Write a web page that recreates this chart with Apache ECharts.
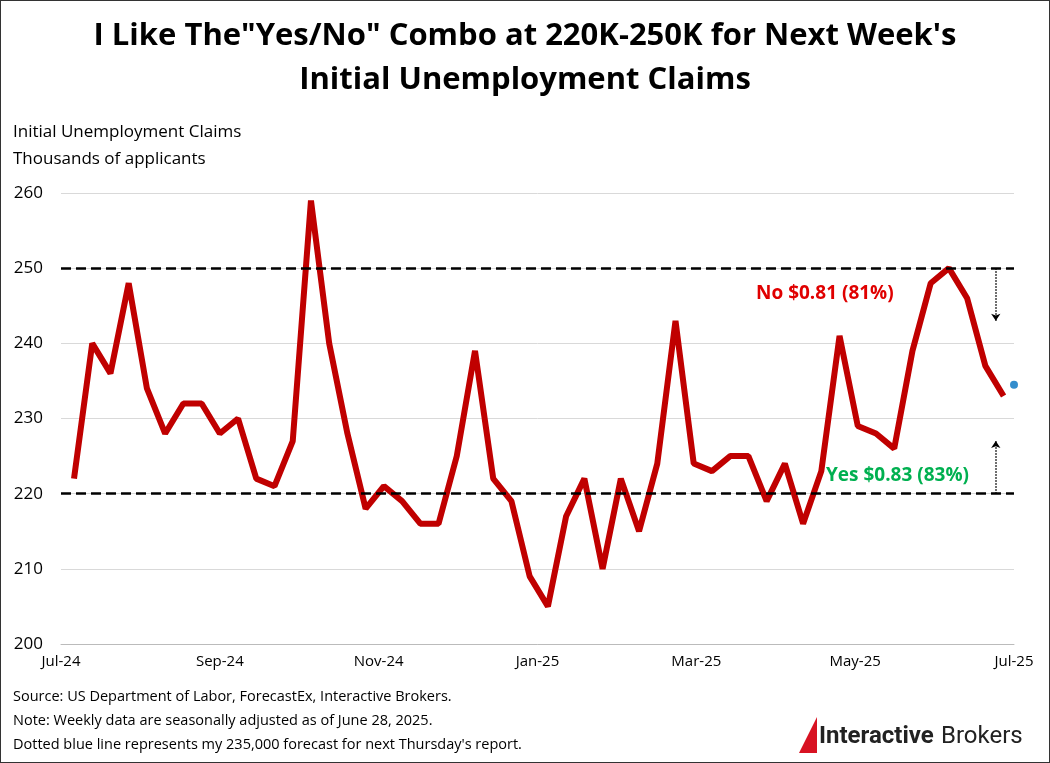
<!doctype html>
<html>
<head>
<meta charset="UTF-8">
<script src="https://cdn.jsdelivr.net/npm/echarts@6/dist/echarts.min.js"></script>
<style>
  html, body { margin: 0; padding: 0; background: #fff; }
  #main { width: 1050px; height: 763px; box-sizing: border-box; border: 1px solid #333; }
</style>
</head>
<body>
<div id="main"></div>
<script>
// weekly claims, week ending Jul 6 2024 .. Jun 28 2025 (thousands)
var claims = [222, 240, 236, 248, 234, 228, 232, 232, 228, 230, 222, 221, 227, 259, 240, 228, 218, 221, 219, 216,
              216, 225, 239, 222, 219, 209, 205, 217, 222, 210, 222, 215, 224, 243, 224, 223, 225, 225, 219, 224,
              216, 223, 241, 229, 228, 226, 239, 248, 250, 246, 237, 233];
var forecast = 234.5;
var tickLabels = ['Jul-24', 'Sep-24', 'Nov-24', 'Jan-25', 'Mar-25', 'May-25', 'Jul-25'];
var firstDay = 5;   // days after Jul 1 2024

var chart = echarts.init(document.getElementById('main'));
var lineData = claims.map(function (v, i) { return [firstDay + 7 * i, v]; });
var fcDay = firstDay + 7 * claims.length - 3;
var arrowX = fcDay - 7;

chart.setOption({
  textStyle: { fontFamily: 'Open Sans' },
  title: {
    text: 'I Like The"Yes/No" Combo at 220K-250K for Next Week\'s\nInitial Unemployment Claims',
    left: 'center', top: 8,
    textStyle: { fontSize: 31, fontWeight: 'bold', lineHeight: 44, color: '#000', fontFamily: 'Open Sans' }
  },
  grid: { left: 60, right: 35, top: 192, bottom: 118 },
  xAxis: {
    type: 'value', min: 0, max: 366, interval: 61,
    axisLine: { show: true, lineStyle: { color: '#bbb' } },
    axisTick: { show: false },
    splitLine: { show: false },
    axisLabel: { fontSize: 15, color: '#000', margin: 10,
      formatter: function (v) { return tickLabels[Math.round(v / 61)] || ''; } }
  },
  yAxis: {
    type: 'value', min: 200, max: 260, interval: 10,
    axisLine: { show: false }, axisTick: { show: false },
    splitLine: { lineStyle: { color: '#d9d9d9' } },
    axisLabel: { fontSize: 17, color: '#000', margin: 18 }
  },
  series: [{
    type: 'line', data: lineData, symbol: 'none',
    lineStyle: { color: '#c00000', width: 6 },
    markLine: {
      silent: true, symbol: 'none', label: { show: false },
      lineStyle: { color: '#000', type: 'dashed', width: 2.5 },
      data: [{ yAxis: 220 }, { yAxis: 250 }]
    }
  }, {
    type: 'scatter', data: [[fcDay, forecast]], symbolSize: 8,
    itemStyle: { color: '#0070c0' }
  }, {
    type: 'line', data: [], 
    markLine: {
      silent: true, symbol: ['none', 'arrow'], symbolSize: 7, label: { show: false },
      lineStyle: { color: '#000', type: 'dotted', width: 1.5 },
      data: [
        [{ coord: [arrowX, 250] }, { coord: [arrowX, 243] }],
        [{ coord: [arrowX, 220] }, { coord: [arrowX, 227] }]
      ]
    }
  }],
  graphic: [
    { type: 'text', left: 12, top: 118, style: { text: 'Initial Unemployment Claims\nThousands of applicants', fontSize: 17, lineHeight: 27, fill: '#000', fontFamily: 'Open Sans' } },
    { type: 'text', left: 755, top: 283, style: { text: 'No $0.81 (81%)', fontSize: 19, fontWeight: 'bold', fill: '#e00000', fontFamily: 'Open Sans' } },
    { type: 'text', left: 825, top: 465, style: { text: 'Yes $0.83 (83%)', fontSize: 19, fontWeight: 'bold', fill: '#00b050', fontFamily: 'Open Sans' } },
    { type: 'text', left: 12, top: 684, style: { text: 'Source: US Department of Labor, ForecastEx, Interactive Brokers.\nNote: Weekly data are seasonally adjusted as of June 28, 2025.\nDotted blue line represents my 235,000 forecast for next Thursday\'s report.', fontSize: 14.5, lineHeight: 24, fill: '#000', fontFamily: 'Open Sans' } },
    { type: 'text', left: 818, top: 724, style: { text: 'Interactive', fontSize: 24, fontWeight: 'bold', fill: '#222', fontFamily: 'Roboto' } },
    { type: 'text', left: 940, top: 724, style: { text: 'Brokers', fontSize: 24, fill: '#222', fontFamily: 'Roboto' } },
    { type: 'polygon', shape: { points: [[798, 752], [816, 716], [816, 752]] }, style: { fill: '#d81222' } }
  ]
});
</script>
</body>
</html>
